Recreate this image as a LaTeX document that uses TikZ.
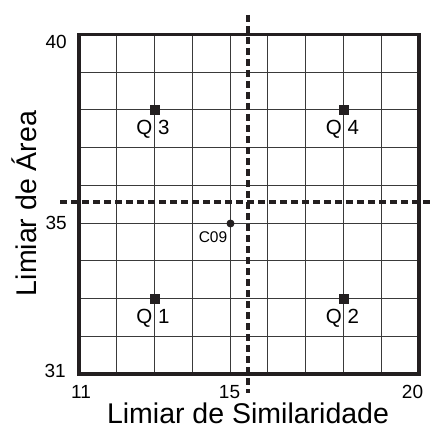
\documentclass[tikz,border=0pt]{standalone}
\usepackage{fontspec}
\setmainfont{Liberation Sans}
\definecolor{ink}{HTML}{231F20}
\definecolor{gridc}{HTML}{3A3A3A}
\tikzset{
  gridline/.style={draw=gridc, line width=1.1pt},
  frameline/.style={draw=ink, line width=3.8pt},
  thresh/.style={draw=ink, line width=3.2pt, dash pattern=on 7pt off 4pt},
  qmark/.style={rectangle, fill=ink, inner sep=0pt, minimum size=10pt},
  qlabel/.style={anchor=base, inner sep=0pt, font=\fontsize{20.5}{22}\selectfont},
  tick/.style={inner sep=0pt, font=\fontsize{19}{20}\selectfont},
  axlabel/.style={anchor=base, inner sep=0pt, font=\fontsize{28.5}{30}\selectfont},
  cdot/.style={circle, fill=ink, inner sep=0pt, minimum size=8pt},
  clabel/.style={anchor=base, inner sep=0pt, font=\fontsize{15.5}{17}\selectfont}
}
\begin{document}
\begin{tikzpicture}[x=1pt,y=-1pt]
\useasboundingbox (0,0) rectangle (433,430);
% grid
\foreach \i in {1,...,8} {
  \draw[gridline] ({79+\i*37.78},34.5) -- ({79+\i*37.78},374);
  \draw[gridline] (79,{34.5+\i*37.72}) -- (419,{34.5+\i*37.72});
}
% frame
\draw[frameline] (79,374) -- (79,34.5) -- (419,34.5) -- (419,374) -- cycle;
% threshold lines
\coordinate (vtop) at (248,15);
\coordinate (vbot) at (248,393);
\coordinate (hleft) at (60,202);
\coordinate (hright) at (433,202);
\draw[thresh] (vtop) -- (vbot);
\draw[thresh] (hleft) -- (hright);
% quadrant markers
\node[qmark] (q3) at (154.5,110) {};
\node[qmark] (q4) at (344,110) {};
\node[qmark] (q1) at (154.5,299) {};
\node[qmark] (q2) at (344,299) {};
\node[qlabel] (q3l) at (153,134.5) {Q 3};
\node[qlabel] (q4l) at (342.5,134.5) {Q 4};
\node[qlabel] (q1l) at (153,323.5) {Q 1};
\node[qlabel] (q2l) at (342.5,323.5) {Q 2};
% C09
\node[cdot] (c09) at (230.5,223.5) {};
\node[clabel] (c09l) at (213,242) {C09};
% ticks
\node[tick, anchor=base east] (t40) at (67,49) {40};
\node[tick, anchor=base east] (t35) at (67,229.5) {35};
\node[tick, anchor=base east] (t31) at (66,377) {31};
\node[tick, anchor=base] (t11) at (81,398) {11};
\node[tick, anchor=base] (t15) at (229.5,398) {15};
\node[tick, anchor=base] (t20) at (412.5,398) {20};
% axis labels
\node[axlabel] (xl) at (248,423.5) {Limiar de Similaridade};
\node[axlabel, rotate=90] (yl) at (36,203.5) {Limiar de Área};
\end{tikzpicture}
\end{document}
